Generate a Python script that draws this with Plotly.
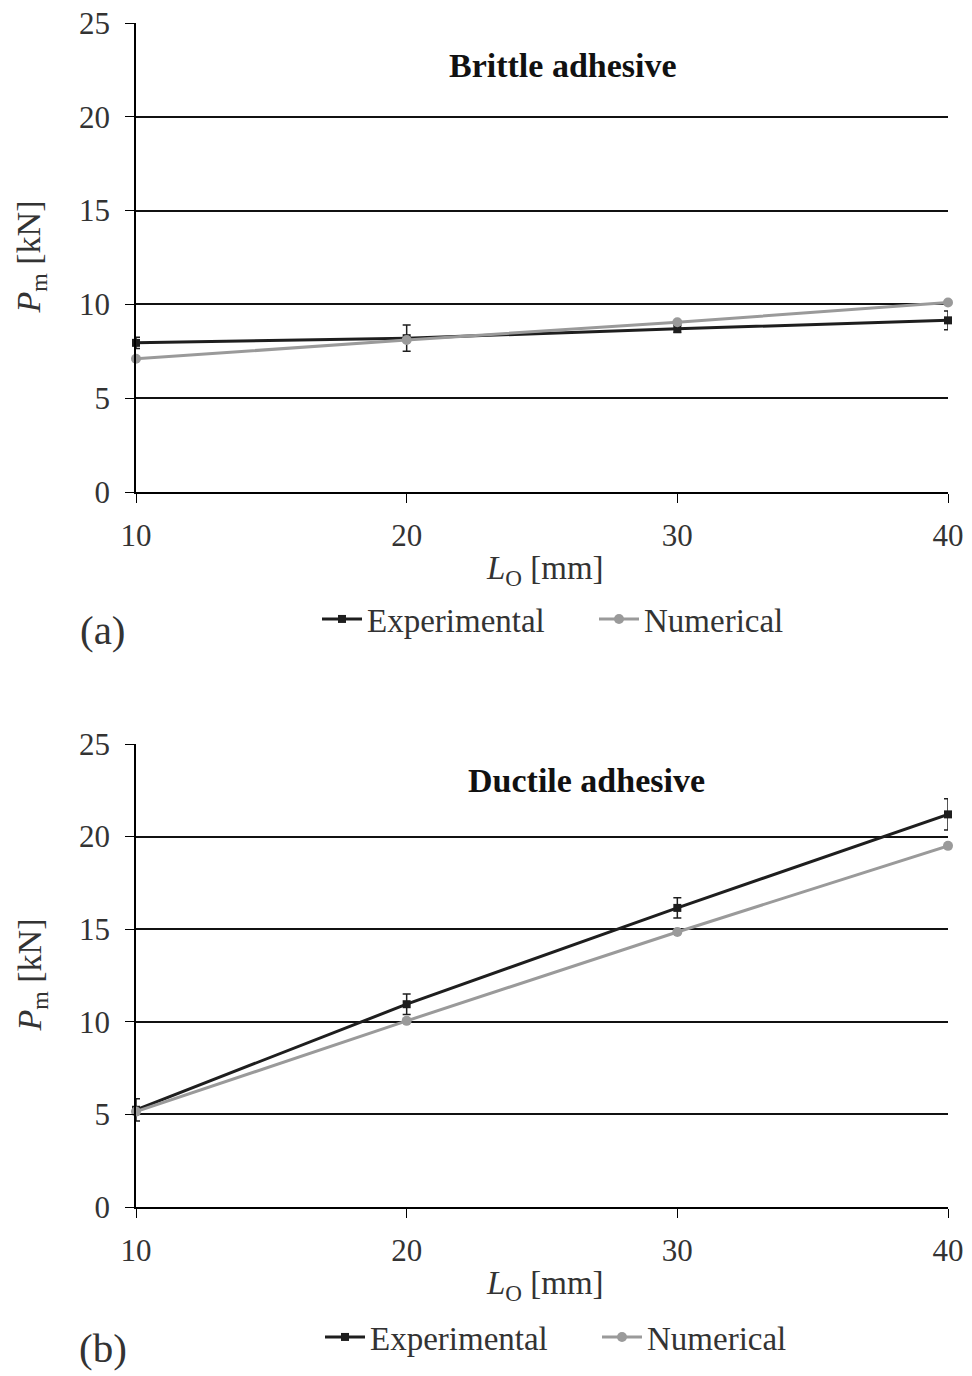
import plotly.graph_objects as go

# Data
lo_mm = [10, 20, 30, 40]
x_ticks = [10, 20, 30, 40]
y_ticks = [0, 5, 10, 15, 20, 25]

brittle_exp = [7.95, 8.2, 8.7, 9.15]
brittle_exp_err = [0.3, 0.7, 0.2, 0.5]
brittle_num = [7.1, 8.1, 9.05, 10.1]

ductile_exp = [5.25, 10.95, 16.15, 21.2]
ductile_exp_err = [0.6, 0.55, 0.55, 0.85]
ductile_num = [5.15, 10.05, 14.85, 19.5]

titles = ["Brittle adhesive", "Ductile adhesive"]
panel_labels = ["(a)", "(b)"]
x_title = "<i>L</i><sub>O</sub> [mm]"
y_title = "<i>P</i><sub>m</sub> [kN]"

FONT = "Liberation Serif"
W, H = 972, 1376


def px_x(p):
    return p / W


def px_y(p):
    return 1 - p / H


fig = go.Figure()

panels = [
    dict(exp=brittle_exp, err=brittle_exp_err, num=brittle_num, top=23, bot=492,
         xa="x", ya="y", legend="legend", leg_x=325, leg_y=619, lab_y=630,
         title_x=563, title_y=66),
    dict(exp=ductile_exp, err=ductile_exp_err, num=ductile_num, top=744, bot=1207,
         xa="x2", ya="y2", legend="legend2", leg_x=328, leg_y=1337, lab_y=1348,
         title_x=586, title_y=781),
]

for i, p in enumerate(panels):
    fig.add_trace(go.Scatter(
        x=lo_mm, y=p["exp"], name="Experimental", mode="lines+markers",
        line=dict(color="#1e1e1e", width=3),
        marker=dict(symbol="square", size=8, color="#1e1e1e"),
        error_y=dict(type="data", array=p["err"], visible=True, color="#1e1e1e",
                     thickness=1.5, width=4),
        xaxis=p["xa"], yaxis=p["ya"], legend=p["legend"], cliponaxis=False,
    ))
    fig.add_trace(go.Scatter(
        x=lo_mm, y=p["num"], name="Numerical", mode="lines+markers",
        line=dict(color="#9a9a9a", width=3),
        marker=dict(symbol="circle", size=10, color="#9a9a9a"),
        xaxis=p["xa"], yaxis=p["ya"], legend=p["legend"], cliponaxis=False,
    ))

axis_common = dict(
    showline=True, linecolor="black", linewidth=1.5,
    ticks="outside", ticklen=9, tickcolor="black", tickwidth=1.2,
    tickfont=dict(family=FONT, size=31, color="#333"),
    zeroline=False, automargin=False,
)

xdom = [px_x(136), px_x(948)]
layout = dict(
    width=W, height=H,
    margin=dict(l=0, r=0, t=0, b=0, autoexpand=False),
    paper_bgcolor="white", plot_bgcolor="white",
    showlegend=True,
    font=dict(family=FONT, color="#222"),
)

for i, p in enumerate(panels):
    sfx = "" if i == 0 else "2"
    layout["xaxis" + sfx] = dict(
        axis_common, domain=xdom, range=[10, 40], tickvals=x_ticks,
        showgrid=False, anchor="y" + sfx, ticklabelstandoff=6,
    )
    layout["yaxis" + sfx] = dict(
        axis_common, domain=[px_y(p["bot"]), px_y(p["top"])], range=[0, 25],
        tickvals=y_ticks, showgrid=True, gridcolor="#111", gridwidth=1.5,
        anchor="x" + sfx, ticklabelstandoff=9,
    )

leg_common = dict(orientation="h", xanchor="left", yanchor="middle",
                  font=dict(family=FONT, size=33, color="#333"),
                  bgcolor="rgba(0,0,0,0)", itemwidth=40, tracegroupgap=0,
                  entrywidth=222, entrywidthmode="pixels")
for p in panels:
    layout[p["legend"]] = dict(leg_common, x=px_x(p["leg_x"] - 8), y=px_y(p["leg_y"]))

fig.update_layout(**layout)


def text_ann(text, x, y, size, color="#333", angle=0):
    return dict(text=text, x=px_x(x), y=px_y(y), xref="paper", yref="paper",
                xanchor="center", yanchor="middle", showarrow=False, textangle=angle,
                font=dict(family=FONT, size=size, color=color))


ann = []
for i, p in enumerate(panels):
    ann.append(text_ann("<b>" + titles[i] + "</b>", p["title_x"], p["title_y"], 34, "#111"))
    ann.append(text_ann(panel_labels[i], 103, p["lab_y"], 41))
    ann.append(text_ann(x_title, 545, p["bot"] + 78, 33))
    ann.append(text_ann(y_title, 31, (p["top"] + p["bot"]) / 2, 34, angle=-90))
fig.update_layout(annotations=ann)

fig.write_html("out.html")
